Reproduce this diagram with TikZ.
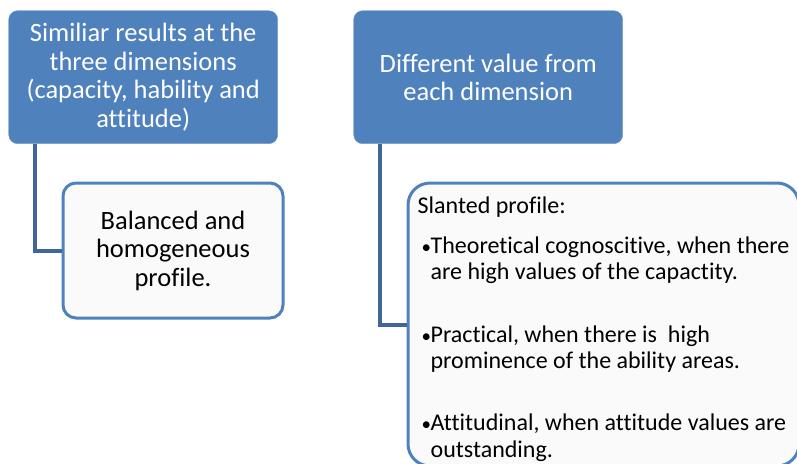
\documentclass[tikz,border=0pt]{standalone}
\usepackage{fontspec}
\setmainfont{Carlito}[Ligatures=NoCommon]
\usetikzlibrary{positioning}
\definecolor{dimblue}{HTML}{4F81BD}
\definecolor{linkblue}{HTML}{3E6699}
\definecolor{profbg}{HTML}{FAFAFA}
\newcommand{\blt}{\makebox[13pt][l]{\hspace{4pt}{\fontsize{19}{19}\selectfont\textbullet}}}
\newcommand{\cnt}{\hspace*{13pt}}

\begin{document}
\begin{tikzpicture}[x=1pt, y=-1pt,
	dim/.style={draw=dimblue!85!white, fill=dimblue, rounded corners=9pt, text=white, align=center, anchor=north west, inner sep=0pt, minimum width=269pt, minimum height=133pt, font=\fontsize{26.5}{28.5}\selectfont},
	profile/.style={draw=dimblue, line width=3pt, fill=profbg, anchor=north west, inner sep=0pt, font=\fontsize{26.5}{28.5}\selectfont},
	link/.style={draw=linkblue, line width=4pt}]
	\useasboundingbox (0,0) rectangle (797,463);
	\clip (0,0) rectangle (797,463);
	\node[dim] (similar) at (8.5,10.5) {Similiar results at the\\three dimensions\\(capacity, hability and\\attitude)};
	\node[dim] (different) at (353.5,10.5) {Different value from\\each dimension};
	\node[profile, rounded corners=13pt, align=center, minimum width=220pt, minimum height=135pt] (balanced) at (61.5,181.5) {Balanced and\\homogeneous\\profile.};
	\node[profile, rounded corners=22pt, align=left, minimum width=391pt, minimum height=283pt, font=\fontsize{24}{26.8}\selectfont] (slanted) at (406.5,181.5) {\rule{0pt}{26pt}Slanted profile:\\[12.5pt]
		\blt Theoretical cognoscitive, when there\\ \cnt are high values of the capactity.\\[35.5pt]
		\blt Practical, when there is\ \ high\\ \cnt prominence of the ability areas.\\[34.5pt]
		\blt Attitudinal, when attitude values are\\ \cnt outstanding.};
	\draw[link] ([xshift=26pt]similar.south west) |- (balanced.west);
	\draw[link] ([xshift=26pt]different.south west) |- (slanted.west);
\end{tikzpicture}
\end{document}
